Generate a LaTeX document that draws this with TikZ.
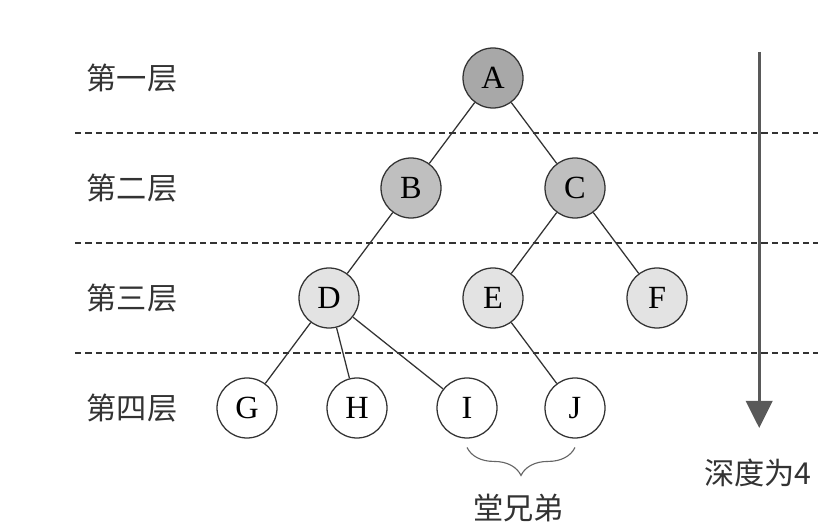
\documentclass[tikz,border=0pt]{standalone}
\usepackage{fontspec}
\setmainfont{Liberation Serif}
\newfontfamily\cjk{Noto Sans CJK SC}
\definecolor{linecolor}{rgb}{0.2,0.2,0.2}
\definecolor{rootfill}{gray}{0.66}
\definecolor{secondfill}{gray}{0.75}
\definecolor{thirdfill}{gray}{0.89}
\definecolor{arrowcolor}{gray}{0.35}
\usetikzlibrary{arrows.meta,positioning,decorations.pathreplacing}
\tikzset{
	knot/.style={
		circle,
		draw=linecolor,
		line width=0.9pt,
		fill=white,
		minimum size=1.5cm,
		inner sep=0pt,
		font=\fontsize{23}{23}\selectfont
	},
	levelname/.style={
		font=\cjk\fontsize{21.5}{21.5}\selectfont,
		text=black!80
	},
	branch/.style={
		draw=linecolor,
		line width=0.9pt
	},
	divider/.style={
		draw=linecolor,
		line width=0.8pt,
		dash pattern=on 0.16cm off 0.1cm
	},
	depth/.style={
		draw=arrowcolor,
		line width=2.2pt,
		-{Triangle[length=0.68cm,width=0.66cm]}
	},
}

\begin{document}
\begin{tikzpicture}[node distance=2.75cm and 2.05cm,on grid]
			\useasboundingbox (0,0) rectangle (20.675,-13.2);
			\node[knot,fill=rootfill] (A) at (12.325,-1.95) {A};
			\node[knot,fill=secondfill] (B) [below left=of A] {B};
			\node[knot,fill=secondfill] (C) [below right=of A] {C};
			\node[knot,fill=thirdfill] (D) [below left=of B] {D};
			\node[knot,fill=thirdfill] (E) [below left=of C] {E};
			\node[knot,fill=thirdfill] (F) [below right=of C] {F};
			\node[knot] (G) [below left=of D] {G};
			\node[knot] (H) [below right=2.75cm and 0.7cm of D] {H};
			\node[knot] (I) [below right=2.75cm and 3.45cm of D] {I};
			\node[knot] (J) [below right=of E] {J};
			\path[branch]
			(A) edge (B) (A) edge (C)
			(B) edge (D) (C) edge (E) (C) edge (F)
			(D) edge (G) (D) edge (H) (D) edge (I)
			(E) edge (J);
			% layers
			\node[levelname] (L1) at (3.3,-1.95) {第一层};
			\node[levelname] (L2) [below=of L1] {第二层};
			\node[levelname] (L3) [below=of L2] {第三层};
			\node[levelname] (L4) [below=of L3] {第四层};
			\foreach \y in {3.325,6.075,8.825}
				\draw[divider] (1.875,-\y) -- (20.45,-\y);
			% depth arrow
			\coordinate (top) at (18.98,-1.3);
			\coordinate (bottom) at (18.98,-10.7);
			\draw[depth] (top) -- (bottom);
			\node[levelname] (deep) at (18.95,-11.82) {深度为4};
			% cousins
			\draw[draw=black!60,line width=0.8pt,decorate,decoration={brace,mirror,amplitude=0.7cm}]
				([yshift=-0.22cm]I.south) coordinate (bl) -- ([yshift=-0.22cm]J.south) coordinate (br);
			\node[levelname] (cousin) at (12.97,-12.7) {堂兄弟};
			\end{tikzpicture}
\end{document}
